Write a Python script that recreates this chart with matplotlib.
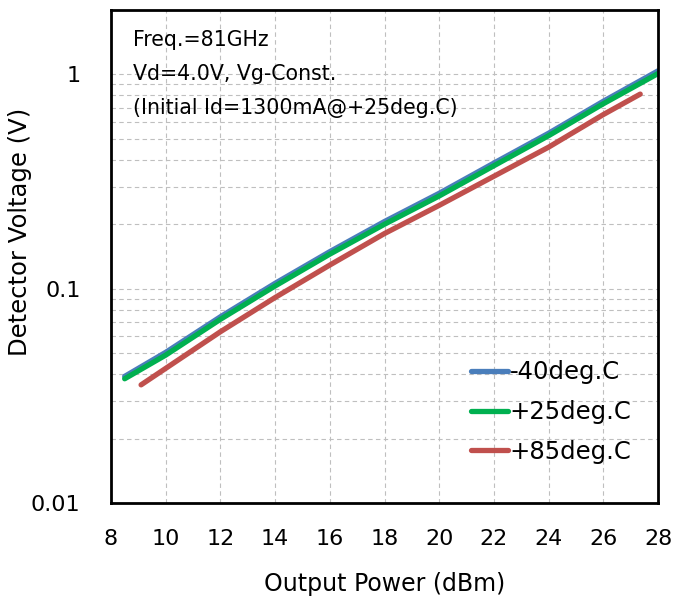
import numpy as np
import matplotlib
matplotlib.use('Agg')
import matplotlib.pyplot as plt

# detector output vs. output power at three case temperatures
pout_cold = [8.5, 10, 12, 14, 16, 18, 20, 22, 24, 26, 28]
vdet_cold = [0.039, 0.0505, 0.074, 0.106, 0.149, 0.206, 0.279, 0.386, 0.532, 0.750, 1.04]

pout_room = [8.5, 10, 12, 14, 16, 18, 20, 22, 24, 26, 28]
vdet_room = [0.038, 0.049, 0.072, 0.103, 0.145, 0.200, 0.271, 0.375, 0.518, 0.730, 1.01]

pout_hot = [9.1, 10, 12, 14, 16, 18, 20, 22, 24, 26, 27.35]
vdet_hot = [0.0356, 0.0425, 0.063, 0.091, 0.129, 0.181, 0.245, 0.335, 0.458, 0.650, 0.81]

labels = ['-40deg.C', '+25deg.C', '+85deg.C']
colors = ['#4a7ebb', '#00b050', '#c0504d']

x_ticks = list(range(8, 29, 2))
notes = ['Freq.=81GHz', 'Vd=4.0V, Vg-Const.', '(Initial Id=1300mA@+25deg.C)']

plt.rcParams['font.family'] = ['DejaVu Sans']

fig = plt.figure(figsize=(6.76, 5.99), dpi=100)
ax = fig.add_axes([111 / 676, 96 / 599, 547 / 676, 493 / 599])

series = [(pout_cold, vdet_cold), (pout_room, vdet_room), (pout_hot, vdet_hot)]
for (px, vy), lab, col in zip(series, labels, colors):
    ax.plot(px, vy, color=col, lw=3.8, label=lab, solid_capstyle='round')

ax.set_yscale('log')
ax.set_xlim(8, 28)
ax.set_ylim(0.01, 2)
ax.set_xticks(x_ticks)
ax.set_yticks([0.01, 0.1, 1])
ax.set_yticklabels(['0.01', '0.1', '1'])

ax.grid(True, which='both', color='#bfbfbf', ls=(0, (4, 3)), lw=0.8)
ax.tick_params(which='both', length=0, labelsize=16)
ax.tick_params(axis='x', pad=19)
ax.tick_params(axis='y', pad=22)
for s in ax.spines.values():
    s.set_linewidth(2)
    s.set_color('black')

ax.set_xlabel('Output Power (dBm)', fontsize=17, labelpad=16)
ax.set_ylabel('Detector Voltage (V)', fontsize=17.5, va='center')
ax.yaxis.set_label_coords(-0.166, 0.55)

for i, t in enumerate(notes):
    ax.text(0.04, 0.939 - i * 0.069, t, transform=ax.transAxes,
            fontsize=14.8, va='center', ha='left')

ax.legend(loc='upper left', bbox_to_anchor=(0.64, 0.309), frameon=False,
          fontsize=17.5, handlelength=1.55, handletextpad=0.05, labelspacing=0.65,
          borderaxespad=0)

fig.savefig('out.png', dpi=100)
